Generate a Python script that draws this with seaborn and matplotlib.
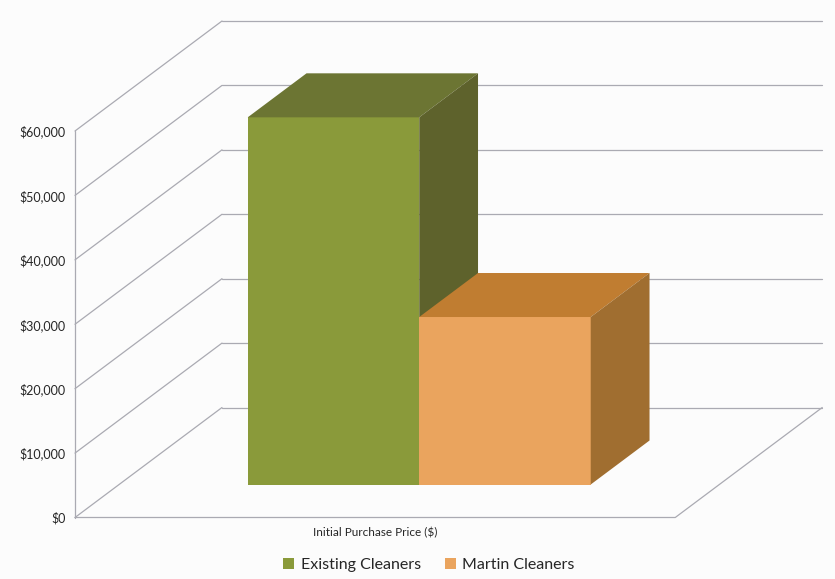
import numpy as np
import pandas as pd
import matplotlib
matplotlib.use("Agg")
import matplotlib.pyplot as plt
import matplotlib.transforms as mtransforms
from matplotlib.patches import Polygon, Patch
import seaborn as sns

# ---- data ----
categories = ["Initial Purchase Price ($)"]
series = ["Existing Cleaners", "Martin Cleaners"]
existing_values = [57000]
martin_values = [26000]
y_ticks = [0, 10000, 20000, 30000, 40000, 50000, 60000]
y_tick_labels = ["$0", "$10,000", "$20,000", "$30,000", "$40,000", "$50,000", "$60,000"]

# ---- styling ----
front_colors = {"Existing Cleaners": "#8a9a3a", "Martin Cleaners": "#eaa45e"}
top_colors = {"Existing Cleaners": "#6c7533", "Martin Cleaners": "#c07d31"}
side_colors = {"Existing Cleaners": "#5e622c", "Martin Cleaners": "#a06e30"}
grid_color = "#aaaab2"
text_color = "#262626"
bg_color = "#fcfcfc"

sns.set_theme(style="white")
plt.rcParams["font.family"] = ["Lato", "DejaVu Sans"]

df = pd.DataFrame({
    "category": categories * 2,
    "series": [series[0]] * len(categories) + [series[1]] * len(categories),
    "value": existing_values + martin_values,
})

W, H = 835, 579
fig = plt.figure(figsize=(W / 100, H / 100), dpi=100, facecolor=bg_color)

# axes frame = front-left corner of floor to back-right top of the walls
left_px, right_px, bottom_px, top_px = 75, 823, 517.5, 21
ax = fig.add_axes([left_px / W, 1 - bottom_px / H,
                   (right_px - left_px) / W, (bottom_px - top_px) / H])
ax.set_facecolor(bg_color)

px_per_dollar = 386.5 / 60000
px_per_unit = 428.75
x_min = -0.7
x_max = x_min + (right_px - left_px) / px_per_unit
y_max = (bottom_px - top_px) / px_per_dollar

# oblique depth vector (full floor depth) in data units
DX = 147 / px_per_unit
DY = 110 / px_per_dollar
floor_half = 0.7
bar_front, bar_depth = 0.3, 0.4

sns.barplot(data=df, x="category", y="value", hue="series", hue_order=series,
            palette=front_colors, saturation=1, width=0.8, legend=False,
            ax=ax, zorder=3, linewidth=0)

ax.set_xlim(x_min, x_max)
ax.set_ylim(0, y_max)

# walls and floor
lw = 0.9
x_back_left = -floor_half + DX
for v in y_ticks:
    # diagonal on the side wall
    ax.plot([-floor_half, x_back_left], [v, v + DY], color=grid_color, lw=lw,
            zorder=1, clip_on=False)
    # horizontal on the back wall
    ax.plot([x_back_left, floor_half + DX], [v + DY, v + DY], color=grid_color,
            lw=lw, zorder=1, clip_on=False)
ax.plot([-floor_half, -floor_half], [0, y_ticks[-1]], color=grid_color, lw=lw,
        zorder=1, clip_on=False)
ax.plot([-floor_half, floor_half, floor_half + DX], [0, 0, DY], color=grid_color,
        lw=lw, zorder=1, clip_on=False)

# push the bars into the box and add top / side faces
shift = mtransforms.Affine2D().translate(bar_front * DX, bar_front * DY)
ddx, ddy = bar_depth * DX, bar_depth * DY
for z, (patch, name) in enumerate(zip(ax.patches[:len(series)], series)):
    patch.set_transform(shift + ax.transData)
    patch.set_zorder(3 + 3 * z)
    x0 = patch.get_x()
    w = patch.get_width()
    h = patch.get_height()
    top = Polygon([(x0, h), (x0 + w, h), (x0 + w + ddx, h + ddy), (x0 + ddx, h + ddy)],
                  closed=True, facecolor=top_colors[name], edgecolor="none",
                  transform=shift + ax.transData, zorder=4 + 3 * z)
    side = Polygon([(x0 + w, 0), (x0 + w, h), (x0 + w + ddx, h + ddy), (x0 + w + ddx, ddy)],
                   closed=True, facecolor=side_colors[name], edgecolor="none",
                   transform=shift + ax.transData, zorder=4 + 3 * z)
    ax.add_patch(top)
    ax.add_patch(side)

# axis text
ax.set_yticks(y_ticks, labels=y_tick_labels)
ax.set_xticks([0], labels=categories)
ax.tick_params(axis="y", length=0, pad=7, labelsize=9, labelcolor=text_color)
ax.tick_params(axis="x", length=0, pad=7, labelsize=8.5, labelcolor=text_color)
ax.set_xlabel("")
ax.set_ylabel("")
for s in ax.spines.values():
    s.set_visible(False)

handles = [Patch(facecolor=front_colors[s], edgecolor="none") for s in series]
fig.legend(handles, series, loc="center", bbox_to_anchor=(429 / W, 1 - 565 / H),
           ncol=2, frameon=False, fontsize=11.5, handlelength=0.7, handleheight=0.7,
           handletextpad=0.4, columnspacing=1.5, labelcolor=text_color)

fig.savefig("out.png", dpi=100, facecolor=bg_color)
